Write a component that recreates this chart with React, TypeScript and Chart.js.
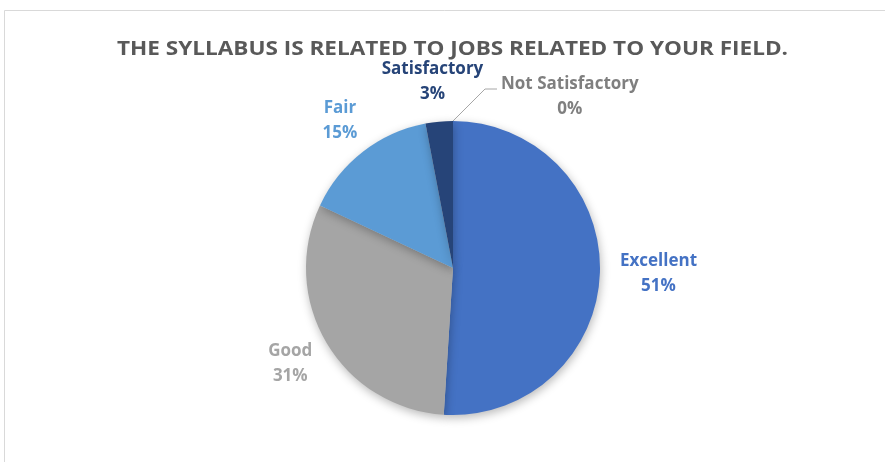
import React, { useEffect, useRef } from "react";
import { Chart, registerables } from "chart.js";

Chart.register(...registerables);

const TITLE = "THE SYLLABUS IS RELATED TO JOBS RELATED TO YOUR FIELD.";
const categories = ["Excellent", "Good", "Fair", "Satisfactory", "Not Satisfactory"];
const values = [51, 31, 15, 3, 0];
const sliceColors = ["#4472C4", "#A5A5A5", "#5B9BD5", "#264478", "#7F7F7F"];
const labelColors = ["#4472C4", "#A5A5A5", "#5B9BD5", "#264478", "#7F7F7F"];

const FONT = "'Open Sans', sans-serif";

const framePlugin = {
  id: "frame",
  beforeDraw(chart: any) {
    const ctx = chart.ctx;
    ctx.save();
    ctx.fillStyle = "#ffffff";
    ctx.fillRect(0, 0, chart.width, chart.height);
    ctx.strokeStyle = "#d9d9d9";
    ctx.lineWidth = 1;
    ctx.beginPath();
    ctx.moveTo(4.5, chart.height);
    ctx.lineTo(4.5, 10.5);
    ctx.lineTo(chart.width, 10.5);
    ctx.stroke();
    // title, fitted to the reference width
    ctx.fillStyle = "#595959";
    ctx.font = `bold 20px ${FONT}`;
    ctx.textAlign = "center";
    ctx.textBaseline = "middle";
    const tw = ctx.measureText(TITLE).width;
    const sx = 671 / tw;
    ctx.translate(452.5, 49);
    ctx.scale(sx, 1);
    ctx.fillText(TITLE, 0, 0);
    ctx.restore();
  },
};

const shadowPlugin = {
  id: "pieShadow",
  beforeDatasetsDraw(chart: any) {
    const ctx = chart.ctx;
    ctx.save();
    ctx.shadowColor = "rgba(0,0,0,0.28)";
    ctx.shadowBlur = 10;
    ctx.shadowOffsetX = 1;
    ctx.shadowOffsetY = 3;
  },
  afterDatasetsDraw(chart: any) {
    chart.ctx.restore();
  },
};

const labelPlugin = {
  id: "outsideLabels",
  afterDatasetsDraw(chart: any) {
    const ctx = chart.ctx;
    const meta = chart.getDatasetMeta(0);
    const total = values.reduce((a, b) => a + b, 0);
    ctx.save();
    ctx.font = `bold 17px ${FONT}`;
    ctx.textAlign = "center";
    ctx.textBaseline = "middle";
    const lineGap = 25;
    meta.data.forEach((arc: any, i: number) => {
      const { x, y, startAngle, endAngle, outerRadius } = arc.getProps(
        ["x", "y", "startAngle", "endAngle", "outerRadius"],
        true
      );
      const mid = (startAngle + endAngle) / 2;
      const dx = Math.cos(mid);
      const dy = Math.sin(mid);
      const l1 = categories[i];
      const l2 = Math.round((values[i] / total) * 100) + "%";
      const w = Math.max(ctx.measureText(l1).width, ctx.measureText(l2).width);
      const h = lineGap * 2;
      ctx.fillStyle = labelColors[i];
      if (values[i] === 0) {
        const sx = x + dx * outerRadius;
        const sy = y + dy * outerRadius;
        const ex = sx + 32;
        const ey = sy - 32;
        ctx.strokeStyle = "#A6A6A6";
        ctx.lineWidth = 1;
        ctx.beginPath();
        ctx.moveTo(sx, sy);
        ctx.lineTo(ex, ey);
        ctx.lineTo(ex + 12, ey);
        ctx.stroke();
        const cx = ex + 16 + w / 2;
        const cy = ey + 8;
        ctx.fillText(l1, cx, cy - lineGap / 2);
        ctx.fillText(l2, cx, cy + lineGap / 2);
        return;
      }
      const gap = 20;
      const px = x + dx * (outerRadius + gap) + dx * (w / 2);
      const py = y + dy * (outerRadius + gap) + dy * (h / 2) * 0.8;
      ctx.fillText(l1, px, py - lineGap / 2);
      ctx.fillText(l2, px, py + lineGap / 2);
    });
    ctx.restore();
  },
};

export default function App() {
  const ref = useRef<HTMLCanvasElement>(null);
  useEffect(() => {
    document.body.style.margin = "0";
    const chart = new Chart(ref.current!, {
      type: "pie",
      data: {
        labels: categories,
        datasets: [
          {
            data: values,
            backgroundColor: sliceColors,
            borderWidth: 0,
          },
        ],
      },
      options: {
        animation: false,
        responsive: false,
        layout: { padding: { left: 306, right: 285, top: 121, bottom: 47 } },
        plugins: {
          legend: { display: false },
          title: { display: false },
          tooltip: { enabled: false },
        },
      },
      plugins: [framePlugin, shadowPlugin, labelPlugin],
    });
    return () => chart.destroy();
  }, []);
  return (
    <div style={{ width: 885, height: 462 }}>
      <canvas ref={ref} width={885} height={462} style={{ display: "block" }} />
    </div>
  );
}
